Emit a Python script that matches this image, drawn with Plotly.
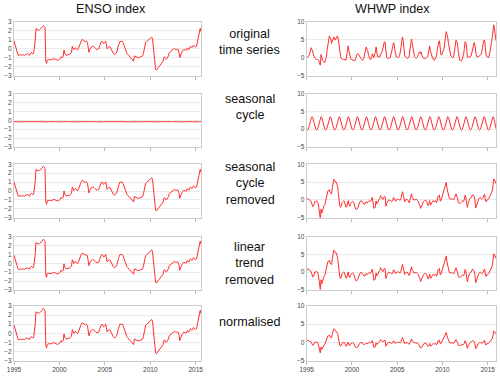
import numpy as np
import plotly.graph_objects as go

# monthly values, Jan 1995 onwards (one line per year)
enso_index = [
    0.86, 0.5, 0.3, 0.1, -0.25, -0.6, -0.75, -0.7, -0.65, -0.7, -0.75, -0.7,
    -0.65, -0.7, -0.75, -0.65, -0.6, -0.6, -0.55, -0.6, -0.75, -0.7, -0.5, -0.4,
    -0.5, -0.6, -0.5, 0.0, 0.9, 2.25, 2.2, 2.2, 2.1, 2.05, 2.15, 2.25,
    2.25, 2.4, 2.55, 2.6, 2.5, 2.35, -1.4, -1.65, -1.3, -1.2, -1.25, -1.2,
    -1.2, -1.25, -1.2, -1.15, -1.1, -1.1, -1.15, -1.2, -1.2, -1.3, -1.3, -1.25,
    -1.2, -1.1, -0.9, -0.95, -1.0, -0.9, -0.15, -0.5, -0.75, -0.75, -0.7, -0.7,
    -0.7, -0.65, -0.6, -0.45, -0.4, 0.3, 0.1, -0.1, -0.05, 0.1, 0.05, -0.15,
    -0.15, 0.0, 0.3, 0.5, 0.7, 0.9, 1.05, 1.0, 0.9, 0.85, 0.8, 0.85,
    0.85, 0.7, 0.3, -0.4, -0.1, 0.1, 0.2, 0.2, 0.3, 0.25, 0.1, 0.1,
    0.0, -0.1, -0.1, 0.0, 0.0, 0.3, 0.7, 0.75, 0.85, 0.8, 0.6, 0.6,
    0.7, 0.85, 0.5, 0.0, 0.1, 0.2, 0.3, 0.2, 0.0, -0.3, -0.45, -0.5,
    -0.6, -0.65, -0.55, -0.5, -0.3, 0.3, 0.4, 0.6, 0.85, 0.8, 0.85, 0.85,
    0.7, 0.4, 0.1, -0.2, -0.45, -0.5, -0.6, -0.7, -0.8, -0.95, -1.0, -1.1,
    -1.2, -1.3, -1.4, -0.8, -0.85, -0.9, -0.9, -0.95, -1.0, -1.0, -0.95, -0.9,
    -0.9, -0.85, -0.8, -0.5, 0.1, 0.4, 0.75, 0.8, 0.85, 0.9, 1.0, 1.1,
    1.15, 1.25, 1.3, 1.1, 0.2, -1.2, -2.1, -2.3, -2.4, -2.3, -2.2, -2.1,
    -1.95, -1.9, -1.75, -1.6, -1.5, -1.4, -1.0, -0.9, -1.1, -1.2, -1.1, -1.0,
    -0.8, -0.45, -0.4, -0.3, -0.25, -0.1, -0.1, 0.0, 0.0, -0.05, -0.1, -0.1,
    0.0, -0.1, -0.45, -1.0, -0.7, -0.45, -0.3, -0.2, -0.1, -0.1, -0.15, -0.15,
    -0.15, 0.1, 0.0, -0.1, 0.1, 0.3, 0.2, 0.1, 0.2, 0.4, 0.3, 0.2,
    0.2, 0.25, 0.6, 1.05, 1.5, 2.0, 2.3, 1.9,
]

whwp_index = [
    0.0, 0.1, 0.3, 0.5, 1.2, 2.2, 2.8, 2.3, 1.4, 0.6, 0.2, -0.2,
    -0.5, -0.5, -0.5, -0.5, -0.8, -1.4, -2.1, 0.9, -0.4, -0.75, -1.0, -1.4,
    -1.4, -0.5, 0.0, 2.0, 3.8, 5.0, 6.1, 5.6, 5.2, 4.0, 4.5, 5.5,
    5.8, 5.3, 4.9, 5.5, 5.9, 6.1, 5.0, 3.3, 1.5, 0.2, -0.2, -0.5,
    -0.5, -0.5, -0.5, -0.6, -0.75, 0.5, 2.8, 3.3, 2.0, 0.5, 0.0, -0.5,
    -0.5, -0.6, -0.7, -0.8, -0.9, -0.2, 0.6, 1.1, 1.0, 0.9, 0.4, -0.2,
    -0.2, -0.5, -0.75, -0.4, 0.0, 1.2, 2.5, 3.0, 2.4, 1.9, 0.6, 0.0,
    -0.5, -0.5, 0.0, 1.1, 0.5, 0.0, 1.0, 1.4, 3.0, 1.2, 0.2, 0.2,
    0.2, 0.2, 1.1, 1.2, 1.7, 2.5, 3.8, 4.5, 4.2, 0.5, 0.0, -0.2,
    -0.2, -0.2, -0.1, 0.2, 1.0, 1.9, 3.0, 4.2, 3.8, 2.0, 0.6, 0.2,
    0.2, 0.0, 0.0, 0.3, 1.2, 2.8, 4.5, 5.8, 4.7, 2.0, 0.5, 0.2,
    0.0, 0.0, -0.2, 0.0, 0.5, 2.4, 3.8, 5.2, 4.0, 2.8, 1.0, 0.2,
    0.0, -0.2, 0.0, 0.2, 0.9, 1.3, 1.7, 1.1, 1.5, 0.5, -0.2, -0.2,
    -0.2, -0.3, -0.2, 0.0, 0.2, 0.8, 2.0, 3.3, 1.9, 1.0, 0.2, -0.2,
    -0.2, -0.75, -0.5, 0.2, 0.5, 2.0, 4.2, 4.5, 4.7, 2.0, 0.75, 0.8,
    1.2, 1.9, 2.5, 4.2, 5.5, 7.3, 6.5, 5.7, 4.0, 2.8, 1.2, 0.5,
    0.3, 0.0, 0.0, 0.5, 1.9, 3.5, 4.9, 4.5, 3.8, 1.5, 0.0, -0.75,
    -0.8, -0.9, -0.5, 0.2, 0.9, 2.5, 4.5, 4.2, 3.0, 0.2, 0.0, 0.2,
    0.2, 0.3, 0.5, 1.5, 2.8, 3.5, 4.2, 3.5, 1.0, 0.5, 0.2, 0.3,
    0.2, 0.3, 0.6, 0.9, 1.5, 2.8, 3.8, 4.9, 4.8, 2.0, 0.5, 0.3,
    0.0, 0.0, 0.5, 1.5, 2.8, 4.2, 5.7, 7.5, 9.2, 8.0, 6.0, 4.8,
]

# monthly climatology (Jan..Dec) as drawn in the "seasonal cycle" row
enso_cycle = [-0.16, -0.17, -0.18, -0.18, -0.17, -0.16, -0.15, -0.16, -0.17, -0.18, -0.17, -0.16]
whwp_cycle = [0.0, -0.2, -0.1, 0.4, 1.3, 2.4, 3.2, 3.5, 3.3, 2.3, 1.0, 0.2]

row_labels = ["original<br>time series", "seasonal<br>cycle", "seasonal<br>cycle<br>removed",
              "linear<br>trend<br>removed", "normalised"]
col_titles = ["ENSO index", "WHWP index"]
year_ticks = [1995, 2000, 2005, 2010, 2015]


def steps(vals, cycle):
    v = np.array(vals, dtype=float)
    t = 1995 + np.arange(len(v)) / 12.0
    cyc = np.tile(cycle, len(v) // 12 + 1)[:len(v)]
    anom = v - cyc
    p = np.polyfit(t, anom, 1)
    detr = anom - np.polyval(p, t)
    norm = detr / detr.std()
    return t, [v, cyc, anom, detr, norm]


t_e, enso_rows = steps(enso_index, enso_cycle)
t_w, whwp_rows = steps(whwp_index, whwp_cycle)

W, H = 500, 376
row_px = [(22, 75.5), (93.5, 147), (164.3, 217.7), (236.5, 290), (306, 360.5)]
col_px = [(14, 201), (306.7, 496)]
yr = [[-3, 3], [-5, 10]]
ydt = [1, 5]
xr = [[1995, t_e[-1]], [1995, t_w[-1]]]

fig = go.Figure()
font = "Liberation Sans, Arial, sans-serif"
layout = {}
k = 0
for r in range(5):
    for c in range(2):
        k += 1
        t, ys = (t_e, enso_rows) if c == 0 else (t_w, whwp_rows)
        fig.add_trace(go.Scatter(x=t, y=ys[r], mode="lines", xaxis="x%d" % k, yaxis="y%d" % k,
                                 line=dict(color="rgb(255,45,45)", width=1), showlegend=False,
                                 hoverinfo="skip"))
        x0, x1 = col_px[c]
        y0, y1 = row_px[r]
        layout["xaxis%d" % k] = dict(domain=[x0 / W, x1 / W], anchor="y%d" % k, range=xr[c],
                                     tickvals=year_ticks, showticklabels=(r == 4), ticks="outside",
                                     ticklen=3, tickcolor="#bbbbbb", showgrid=False, zeroline=False,
                                     showline=True, mirror=True, linecolor="#cccccc", linewidth=1,
                                     automargin=False,
                                     tickfont=dict(size=6.5, color="#444444", family=font))
        layout["yaxis%d" % k] = dict(domain=[1 - y1 / H, 1 - y0 / H], anchor="x%d" % k, range=yr[c],
                                     dtick=ydt[c], showgrid=True, gridcolor="#ebebeb", gridwidth=1,
                                     zeroline=False, showline=True, mirror=True, linecolor="#cccccc",
                                     linewidth=1, ticks="", ticklen=0, automargin=False,
                                     tickfont=dict(size=6.5, color="#444444", family=font))

annotations = []
for c, title in enumerate(col_titles):
    cx = [111, 392.5][c]
    annotations.append(dict(text=title, x=cx / W, y=1 - 9.5 / H, xref="paper", yref="paper",
                            xanchor="center", yanchor="middle", showarrow=False,
                            font=dict(size=12.6, color="#111111", family=font)))
label_y = [42.5, 107, 184, 263.3, 321.7]
for r, lab in enumerate(row_labels):
    annotations.append(dict(text=lab, x=249.7 / W, y=1 - label_y[r] / H, xref="paper", yref="paper",
                            xanchor="center", yanchor="middle", showarrow=False, align="center",
                            font=dict(size=12.6, color="#111111", family=font)))

fig.update_layout(width=W, height=H, margin=dict(l=0, r=0, t=0, b=0, autoexpand=False),
                  plot_bgcolor="white", paper_bgcolor="white", annotations=annotations, **layout)
fig.write_html("out.html", config={"displayModeBar": False},
               post_script="document.body.style.margin='0';document.body.style.overflow='hidden';")
